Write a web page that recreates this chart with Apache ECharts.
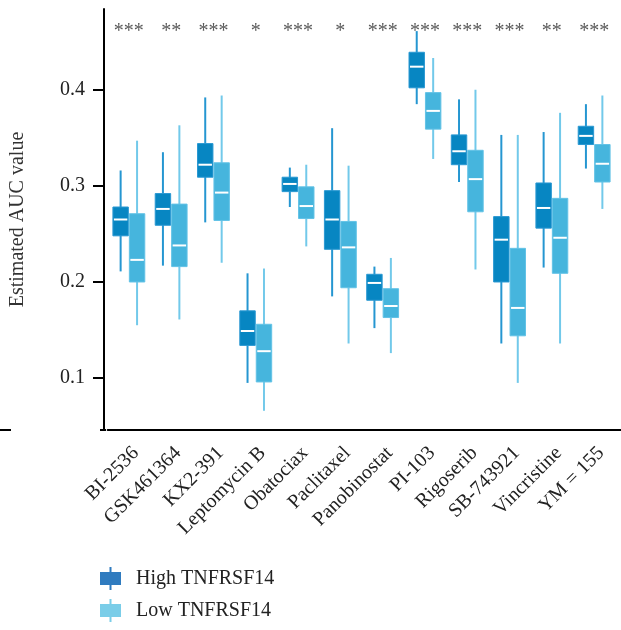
<!DOCTYPE html>
<html>
<head>
<meta charset="utf-8">
<title>Estimated AUC by drug</title>
<script src="https://cdn.jsdelivr.net/npm/echarts@6/dist/echarts.min.js"></script>
<style>
  html, body { margin: 0; padding: 0; background: #ffffff; }
  #chart { width: 621px; height: 630px; }
</style>
</head>
<body>
<div id="chart"></div>
<script>
// Drugs on the x axis
const drugs = ['BI-2536', 'GSK461364', 'KX2-391', 'Leptomycin B', 'Obatociax', 'Paclitaxel',
  'Panobinostat', 'PI-103', 'Rigoserib', 'SB-743921', 'Vincristine', 'YM = 155'];

// High TNFRSF14 group: five-number summaries per drug
const highMin    = [0.211, 0.217, 0.262, 0.095, 0.278, 0.185, 0.152, 0.385, 0.304, 0.136, 0.215, 0.318];
const highQ1     = [0.248, 0.259, 0.309, 0.134, 0.294, 0.234, 0.181, 0.402, 0.322, 0.200, 0.256, 0.343];
const highMedian = [0.265, 0.276, 0.322, 0.149, 0.302, 0.265, 0.199, 0.424, 0.336, 0.244, 0.277, 0.352];
const highQ3     = [0.278, 0.292, 0.344, 0.170, 0.309, 0.295, 0.208, 0.439, 0.353, 0.268, 0.303, 0.362];
const highMax    = [0.316, 0.335, 0.392, 0.209, 0.319, 0.360, 0.216, 0.461, 0.390, 0.353, 0.356, 0.385];

// Low TNFRSF14 group
const lowMin    = [0.155, 0.161, 0.220, 0.066, 0.237, 0.136, 0.126, 0.328, 0.213, 0.095, 0.136, 0.276];
const lowQ1     = [0.200, 0.216, 0.264, 0.096, 0.266, 0.194, 0.163, 0.359, 0.273, 0.144, 0.209, 0.304];
const lowMedian = [0.223, 0.238, 0.293, 0.128, 0.279, 0.236, 0.175, 0.378, 0.307, 0.173, 0.246, 0.323];
const lowQ3     = [0.271, 0.281, 0.324, 0.156, 0.299, 0.263, 0.193, 0.397, 0.337, 0.235, 0.287, 0.343];
const lowMax    = [0.347, 0.363, 0.394, 0.214, 0.322, 0.321, 0.225, 0.433, 0.400, 0.353, 0.376, 0.394];

// Significance markers above each pair
const significance = ['***', '**', '***', '*', '***', '*', '***', '***', '***', '***', '**', '***'];
const starLevel = 0.460;

// Value axis ticks
const yTicks = [0.1, 0.2, 0.3, 0.4];

const serif = '"Liberation Serif", "DejaVu Serif", serif';

const groups = [
  { name: 'High TNFRSF14', side: -1, fill: '#0786c2', edge: '#2a98d2', whisker: '#2596d1', legend: '#2f7bbf',
    min: highMin, q1: highQ1, med: highMedian, q3: highQ3, max: highMax },
  { name: 'Low TNFRSF14', side: 1, fill: '#46b5dd', edge: '#62c2e6', whisker: '#72c9ea', legend: '#7acde8',
    min: lowMin, q1: lowQ1, med: lowMedian, q3: lowQ3, max: lowMax }
];

function boxRenderer(group) {
  return function (params, api) {
    const idx = api.value(0);
    const pMin = api.coord([idx, api.value(1)]);
    const pQ1 = api.coord([idx, api.value(2)]);
    const pMed = api.coord([idx, api.value(3)]);
    const pQ3 = api.coord([idx, api.value(4)]);
    const pMax = api.coord([idx, api.value(5)]);
    const band = api.size([1, 0])[0];
    const w = band * 0.365;
    const gap = 0.5;
    const x0 = group.side < 0 ? pMin[0] - gap - w : pMin[0] + gap;
    const cx = x0 + w / 2;
    return {
      type: 'group',
      children: [
        { type: 'line', shape: { x1: cx, y1: pMax[1], x2: cx, y2: pMin[1] },
          style: { stroke: group.whisker, lineWidth: 2 } },
        { type: 'rect', shape: { x: x0, y: pQ3[1], width: w, height: pQ1[1] - pQ3[1] },
          style: { fill: group.fill, stroke: group.edge, lineWidth: 1 } },
        { type: 'line', shape: { x1: x0 + 1, y1: pMed[1], x2: x0 + w - 1, y2: pMed[1] },
          style: { stroke: '#ffffff', lineWidth: 2 } }
      ]
    };
  };
}

const boxSeries = groups.map(function (g) {
  return {
    name: g.name,
    type: 'custom',
    renderItem: boxRenderer(g),
    itemStyle: { color: g.legend },
    encode: { x: 0, y: [1, 2, 3, 4, 5] },
    data: drugs.map(function (d, i) {
      return [i, g.min[i], g.q1[i], g.med[i], g.q3[i], g.max[i]];
    }),
    z: 3
  };
});

const starSeries = {
  name: 'significance',
  type: 'custom',
  silent: true,
  renderItem: function (params, api) {
    const p = api.coord([api.value(0), api.value(1)]);
    return {
      type: 'text',
      x: p[0],
      y: p[1],
      style: {
        text: significance[params.dataIndex],
        fill: '#5a5a5a',
        font: '20px ' + serif,
        align: 'center',
        verticalAlign: 'middle'
      }
    };
  },
  data: drugs.map(function (d, i) { return [i, starLevel]; }),
  z: 4
};

const legendIcon = 'path://M0,5H21V18H0Z M9.5,0H11.5V23H9.5Z';

const chart = echarts.init(document.getElementById('chart'), null, { renderer: 'canvas' });

chart.setOption({
  animation: false,
  backgroundColor: '#ffffff',
  grid: { left: 104.7, right: 5.7, top: 9, bottom: 200, containLabel: false },
  legend: {
    orient: 'vertical',
    left: 100,
    top: 567,
    padding: 0,
    itemWidth: 21,
    itemHeight: 23,
    itemGap: 9,
    data: groups.map(function (g) {
      return { name: g.name, icon: legendIcon, itemStyle: { color: g.legend } };
    }),
    textStyle: { fontFamily: serif, fontSize: 20, color: '#222222', padding: [0, 0, 0, 10] }
  },
  xAxis: {
    type: 'category',
    data: drugs,
    boundaryGap: true,
    axisLine: { lineStyle: { color: '#000000', width: 2 } },
    axisTick: { alignWithLabel: true, length: 12, lineStyle: { color: '#000000', width: 2 } },
    axisLabel: {
      rotate: 45,
      margin: 13,
      interval: 0,
      verticalAlign: 'top',
      fontFamily: serif,
      fontSize: 20,
      color: '#222222'
    },
    splitLine: { show: false }
  },
  yAxis: {
    type: 'value',
    min: 0.046,
    max: 0.484,
    offset: 3.7,
    name: 'Estimated AUC value',
    nameLocation: 'middle',
    nameGap: 76,
    nameTextStyle: { fontFamily: serif, fontSize: 20, color: '#333333' },
    axisLine: { show: true, lineStyle: { color: '#000000', width: 2 } },
    axisTick: { show: true, length: 11, customValues: yTicks, lineStyle: { color: '#000000', width: 2 } },
    axisLabel: {
      customValues: yTicks,
      margin: 19,
      fontFamily: serif,
      fontSize: 20,
      color: '#222222',
      formatter: function (v) { return v.toFixed(1); }
    },
    splitLine: { show: false }
  },
  graphic: [
    { type: 'line', shape: { x1: 0, y1: 430, x2: 11, y2: 430 }, style: { stroke: '#000000', lineWidth: 2 } },
    { type: 'line', shape: { x1: 100, y1: 430, x2: 106, y2: 430 }, style: { stroke: '#000000', lineWidth: 2 } },
    { type: 'line', shape: { x1: 614, y1: 430, x2: 621, y2: 430 }, style: { stroke: '#000000', lineWidth: 2 } }
  ],
  series: boxSeries.concat([starSeries])
});
</script>
</body>
</html>
